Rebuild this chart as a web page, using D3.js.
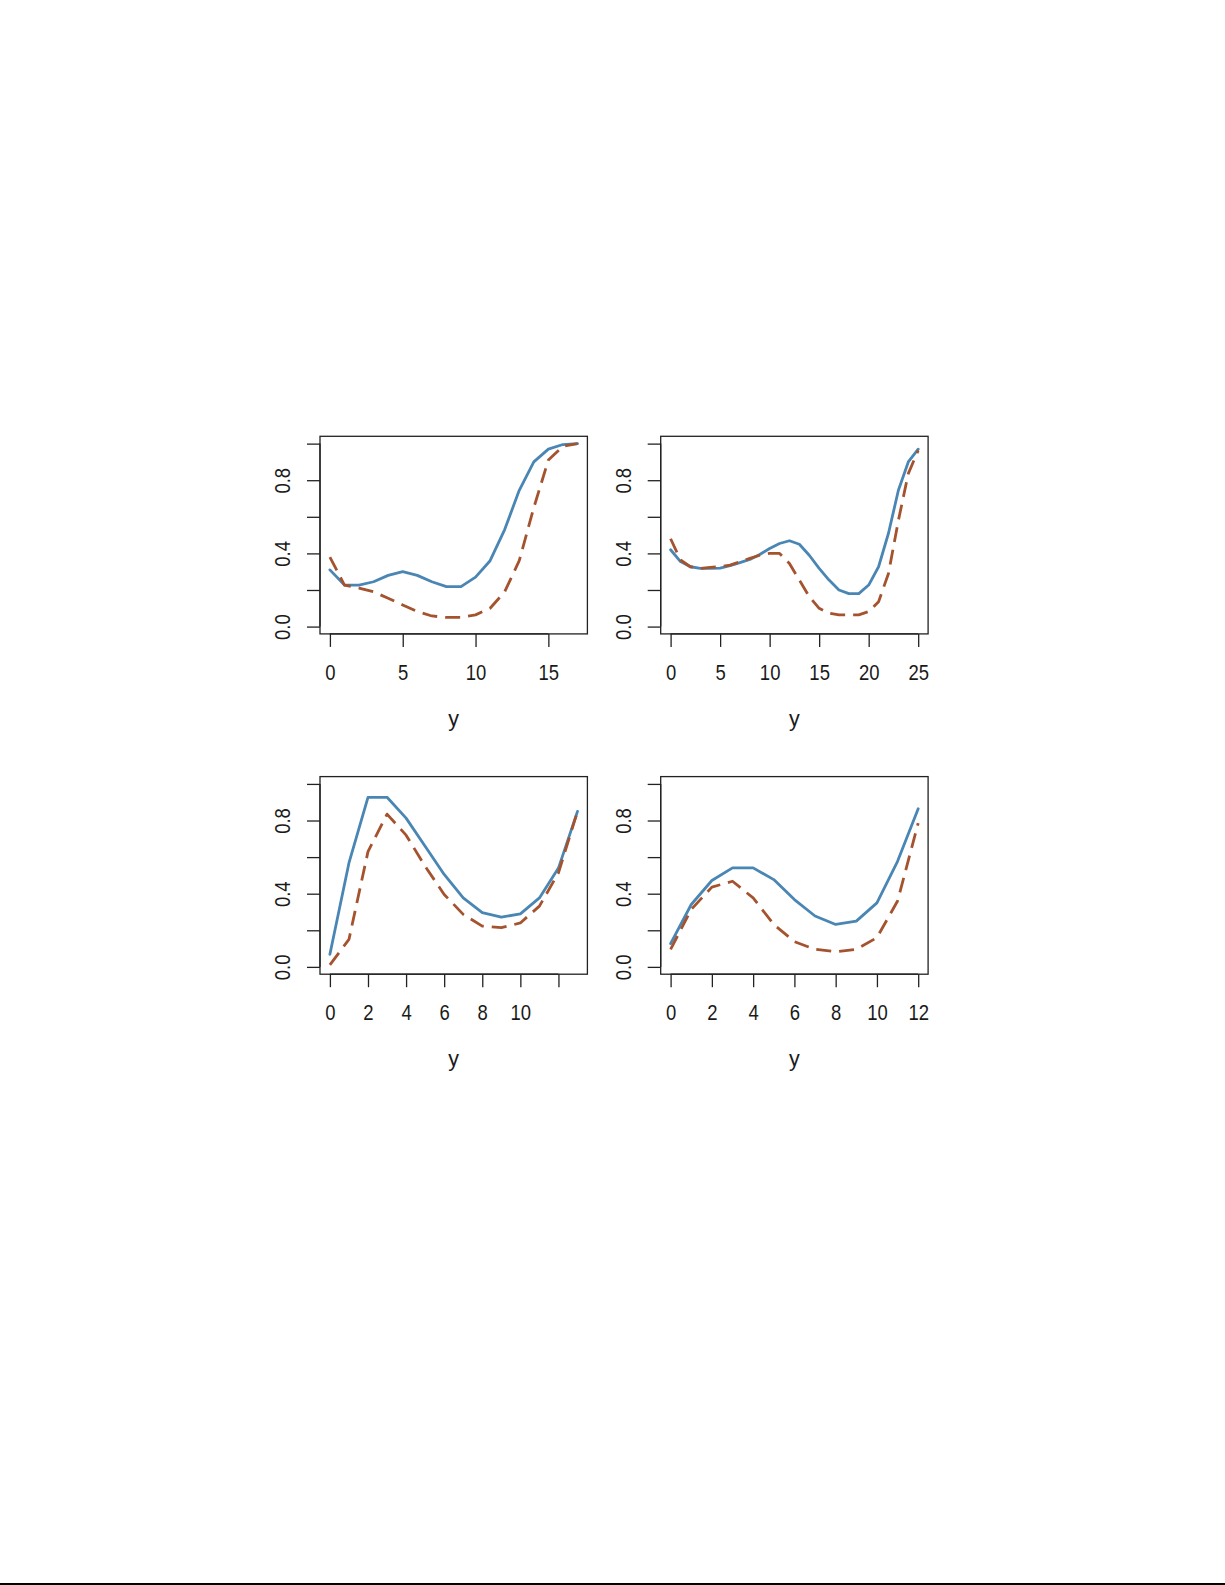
<!DOCTYPE html>
<html>
<head>
<meta charset="utf-8">
<script src="https://cdn.jsdelivr.net/npm/d3@7/dist/d3.min.js"></script>
<style>
  html, body { margin: 0; padding: 0; background: #fff; }
  svg { display: block; }
  text { font-family: "Liberation Sans", Arial, sans-serif; fill: #1a1a1a; }
</style>
</head>
<body>
<svg id="chart" width="1225" height="1585"></svg>
<script>
// ---------------- data ----------------
const p1X = [0,1,2,3,4,5,6,7,8,9,10,11,12,13,14,15,16,17];
const p1Blue = [0.31,0.227,0.227,0.245,0.28,0.30,0.28,0.245,0.218,0.218,0.27,0.36,0.53,0.745,0.90,0.97,0.995,1.0];
const p1Red  = [0.38,0.227,0.21,0.19,0.155,0.118,0.082,0.058,0.05,0.05,0.064,0.10,0.19,0.36,0.65,0.91,0.985,1.0];
const p1Ticks = [0,5,10,15];
const p1TickLabels = ["0","5","10","15"];

const p2X = [0,1,2,3,4,5,6,7,8,9,10,11,12,13,14,15,16,17,18,19,20,21,22,23,24,25];
const p2Blue = [0.42,0.355,0.327,0.318,0.318,0.32,0.333,0.35,0.367,0.394,0.427,0.454,0.469,0.45,0.39,0.318,0.254,0.20,0.18,0.18,0.227,0.327,0.51,0.745,0.90,0.97];
const p2Red  = [0.48,0.364,0.327,0.318,0.324,0.327,0.336,0.354,0.373,0.39,0.40,0.40,0.345,0.254,0.164,0.10,0.073,0.064,0.064,0.064,0.082,0.136,0.29,0.58,0.836,0.963];
const p2Ticks = [0,5,10,15,20,25];
const p2TickLabels = ["0","5","10","15","20","25"];

const p3X = [0,1,2,3,4,5,6,7,8,9,10,11,12,13];
const p3Blue = [0.069,0.568,0.927,0.927,0.813,0.659,0.505,0.377,0.296,0.272,0.29,0.377,0.54,0.85];
const p3Red  = [0.011,0.15,0.63,0.835,0.72,0.55,0.396,0.287,0.223,0.214,0.24,0.332,0.514,0.85];
const p3Ticks = [0,2,4,6,8,10,12];
const p3TickLabels = ["0","2","4","6","8","10",""];

const p4X = [0,1,2,3,4,5,6,7,8,9,10,11,12];
const p4Blue = [0.127,0.341,0.472,0.541,0.541,0.477,0.368,0.278,0.232,0.25,0.35,0.577,0.864];
const p4Red  = [0.096,0.314,0.436,0.468,0.377,0.232,0.138,0.096,0.083,0.096,0.16,0.36,0.786];
const p4Ticks = [0,2,4,6,8,10,12];
const p4TickLabels = ["0","2","4","6","8","10","12"];

const yTicks = [0,0.2,0.4,0.6,0.8,1.0];
const yTickLabels = ["0.0","","0.4","","0.8",""];
const xAxisTitle = "y";

// ---------------- layout ----------------
const svg = d3.select("#chart");
const W = 267.4, H = 197.6;
const panels = [
  {x: p1X, blue: p1Blue, red: p1Red, ticks: p1Ticks, labels: p1TickLabels, left: 320.0, top: 436.3},
  {x: p2X, blue: p2Blue, red: p2Red, ticks: p2Ticks, labels: p2TickLabels, left: 660.7, top: 436.3},
  {x: p3X, blue: p3Blue, red: p3Red, ticks: p3Ticks, labels: p3TickLabels, left: 320.0, top: 776.6},
  {x: p4X, blue: p4Blue, red: p4Red, ticks: p4Ticks, labels: p4TickLabels, left: 660.7, top: 776.6}
];

const BLUE = "#4a86b4", RED = "#a4532e", INK = "#222";
const FS = "21.5px";

panels.forEach(p => {
  const xmin = d3.min(p.x), xmax = d3.max(p.x), pad = (xmax - xmin) * 0.04;
  const xs = d3.scaleLinear().domain([xmin - pad, xmax + pad]).range([p.left, p.left + W]);
  const ys = d3.scaleLinear().domain([-0.04, 1.04]).range([p.top + H, p.top]);
  const g = svg.append("g");

  // lines
  const line = d3.line().x((d, i) => xs(p.x[i])).y(d => ys(d));
  g.append("path").datum(p.blue).attr("d", line)
    .attr("fill", "none").attr("stroke", BLUE).attr("stroke-width", 2.8)
    .attr("stroke-linejoin", "round").attr("stroke-linecap", "round");
  g.append("path").datum(p.red).attr("d", line)
    .attr("fill", "none").attr("stroke", RED).attr("stroke-width", 2.8)
    .attr("stroke-linejoin", "round").attr("stroke-linecap", "butt")
    .attr("stroke-dasharray", "15,8");

  // box
  g.append("rect").attr("x", p.left).attr("y", p.top).attr("width", W).attr("height", H)
    .attr("fill", "none").attr("stroke", INK).attr("stroke-width", 1.3);

  // x axis
  const xAxis = d3.axisBottom(xs).tickValues(p.ticks)
    .tickFormat((d, i) => p.labels[i]).tickSizeInner(13).tickSizeOuter(0);
  const xg = g.append("g").attr("transform", `translate(0,${p.top + H})`).call(xAxis);
  xg.select(".domain").attr("d", `M${xs(p.ticks[0])},0H${xs(p.ticks[p.ticks.length-1])}`).attr("stroke", INK).attr("stroke-width", 1.3);
  xg.selectAll(".tick line").attr("stroke", INK).attr("stroke-width", 1.3);
  xg.selectAll(".tick text").attr("font-size", FS).attr("font-family", "Liberation Sans, Arial, sans-serif")
    .attr("fill", "#1a1a1a").attr("dy", null).attr("y", null)
    .attr("transform", "translate(0,46) scale(0.86,1)");

  // y axis
  const yAxis = d3.axisLeft(ys).tickValues(yTicks)
    .tickFormat((d, i) => yTickLabels[i]).tickSizeInner(13).tickSizeOuter(0);
  const yg = g.append("g").attr("transform", `translate(${p.left},0)`).call(yAxis);
  yg.select(".domain").attr("d", `M0,${ys(0)}V${ys(1)}`).attr("stroke", INK).attr("stroke-width", 1.3);
  yg.selectAll(".tick line").attr("stroke", INK).attr("stroke-width", 1.3);
  yg.selectAll(".tick text").attr("font-size", FS).attr("font-family", "Liberation Sans, Arial, sans-serif")
    .attr("fill", "#1a1a1a").attr("x", null).attr("dy", null)
    .attr("text-anchor", "middle")
    .attr("transform", "translate(-30,0) rotate(-90) scale(0.86,1)");

  // axis title
  g.append("text").attr("x", p.left + W / 2).attr("y", p.top + H + 92)
    .attr("text-anchor", "middle").attr("font-size", FS).text(xAxisTitle);
});

// bottom page rule
svg.append("rect").attr("x", 0).attr("y", 1583).attr("width", 1225).attr("height", 2).attr("fill", "#000");
</script>
</body>
</html>
